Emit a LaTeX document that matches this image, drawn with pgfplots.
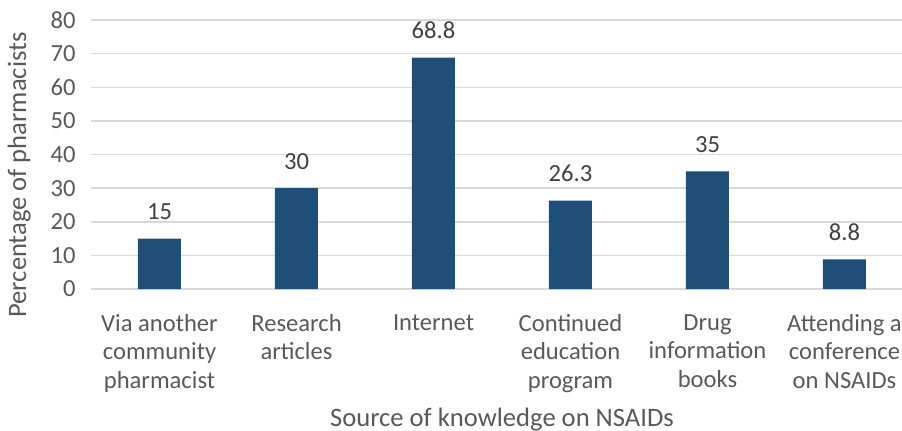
\documentclass[border=0pt]{standalone}
\usepackage{fontspec}
\setmainfont{Carlito}
\usepackage{pgfplots}
\pgfplotsset{compat=1.18}
\definecolor{barblue}{RGB}{31,78,121}
\definecolor{gridgray}{RGB}{217,217,217}
\definecolor{ticktext}{RGB}{89,89,89}
\definecolor{labeltext}{RGB}{64,64,64}
\begin{document}
\begin{tikzpicture}
\begin{axis}[
  at={(0pt,0pt)}, anchor=south west,
  scale only axis,
  width=411pt, height=134.5pt,
  xmin=-0.5, xmax=5.5, ymin=0, ymax=80,
  ytick={0,10,...,80},
  xtick={0,1,2,3,4,5},
  xticklabels={{Via another\\community\\pharmacist},{Research\\articles},{Internet},{Continued\\education\\program},{Drug\\information\\books},{Attending a\\conference\\on NSAIDs}},
  /pgf/number format/assume math mode=true,
  axis line style={draw=none},
  axis x line*=bottom,
  x axis line style={draw=gridgray, line width=0.75pt},
  ymajorgrids, grid style={gridgray, line width=0.75pt},
  major tick length=0pt,
  tick style={draw=none},
  yticklabel style={font=\fontsize{12.3}{14}\selectfont, text=ticktext, inner sep=0pt, anchor=east, xshift=-7.5pt},
  xticklabel style={font=\fontsize{12.3}{14.25}\selectfont, text=ticktext, align=center, inner sep=0pt, anchor=north, yshift=-12.5pt},
  xlabel={Source of knowledge on NSAIDs},
  ylabel={Percentage of pharmacists},
  xlabel style={font=\fontsize{13.3}{15}\selectfont, text=ticktext, at={(axis description cs:0.5,-0.487)}, anchor=center},
  ylabel style={font=\fontsize{13.3}{15}\selectfont, text=ticktext, at={(axis description cs:-0.0875,0.424)}, anchor=center, rotate=0},
  ybar, bar width=21.5pt,
  nodes near coords,
  every node near coord/.append style={font=\fontsize{12.3}{14}\selectfont, text=labeltext, anchor=base, inner sep=0pt, yshift=9.5pt},
  clip=false,
]
\addplot[fill=barblue, draw=none] coordinates {(0,15) (1,30) (2,68.8) (3,26.3) (4,35) (5,8.8)};
\end{axis}
\pgfresetboundingbox
\useasboundingbox (-45.5pt,-70.5pt) rectangle (405.5pt,144.5pt);
\end{tikzpicture}
\end{document}
